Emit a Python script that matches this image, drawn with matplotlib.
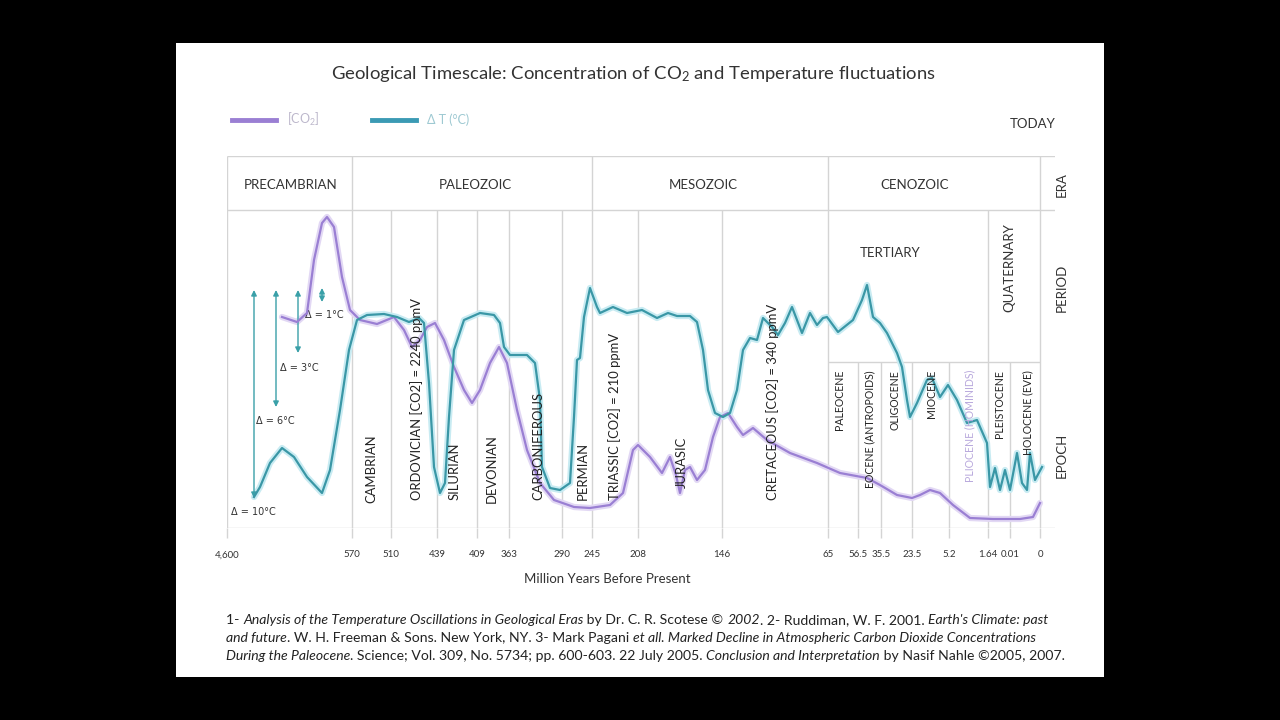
import matplotlib.pyplot as plt
from matplotlib.patches import Rectangle
from matplotlib.lines import Line2D
from matplotlib.font_manager import FontProperties

plt.rcParams['font.family'] = ['Lato', 'DejaVu Sans']
plt.rcParams['mathtext.fontset'] = 'custom'
plt.rcParams['mathtext.rm'] = 'Lato'
plt.rcParams['mathtext.it'] = 'Lato:italic'

# positions along the (non-linear) time axis, chart units from the left edge
tick_pos = [0, 125, 164, 210, 250, 282, 335, 365, 411, 495, 601, 631, 654, 685, 722, 761, 783, 813]
tick_labels = ['4,600', '570', '510', '439', '409', '363', '290', '245', '208', '146',
               '65', '56.5', '35.5', '23.5', '5.2', '1.64', '0.01', '0']

eras = ['PRECAMBRIAN', 'PALEOZOIC', 'MESOZOIC', 'CENOZOIC']
era_x = [64, 248, 476, 688]
era_bounds = [0, 125, 365, 601, 813]
period_bounds = [164, 210, 250, 282, 335, 411, 495, 761]
epoch_bounds = [631, 654, 685, 722, 783]

periods = ['CAMBRIAN', 'ORDOVICIAN [CO2] = 2240 ppmV', 'SILURIAN', 'DEVONIAN', 'CARBONIFEROUS',
           'PERMIAN', 'TRIASSIC [CO2] = 210 ppmV', 'JURASIC', 'CRETACEOUS [CO2] = 340 ppmV']
period_x = [144, 190, 228, 265, 311, 356, 388, 455, 546]
period_y = [25, 28, 28, 25, 28, 28, 28, 40, 28]

epochs = ['PALEOCENE', 'EOCENE (ANTROPOIDS)', 'OLIGOCENE', 'MIOCENE', 'PLIOCENE (HOMINIDS)',
          'PLEISTOCENE', 'HOLOCENE (EVE)']
epoch_x = [613, 643, 668, 705, 743, 773, 801]

# CO2 concentration curve (relative level)
co2_x = [55, 70, 80, 87, 95, 100, 107, 115, 123, 133, 150, 167, 177, 185, 193, 200, 208, 217, 227, 237,
         245, 253, 263, 272, 280, 290, 300, 313, 327, 347, 363, 383, 396, 406, 411, 423, 435, 443, 449, 453,
         458, 463, 470, 478, 486, 493, 501, 510, 516, 526, 540, 563, 590, 613, 640, 653, 670, 685, 693, 703,
         713, 726, 743, 766, 793, 806, 813]
co2_y = [211, 206, 215, 268, 305, 311, 301, 251, 218, 208, 204, 211, 198, 181, 188, 201, 205, 188, 161, 138,
         125, 138, 165, 181, 165, 118, 78, 45, 28, 21, 20, 23, 35, 78, 83, 71, 55, 71, 53, 35,
         58, 61, 48, 58, 91, 111, 115, 101, 93, 100, 88, 75, 65, 55, 50, 43, 33, 30, 33, 38,
         35, 23, 10, 9, 9, 11, 25]

# temperature curve (relative level)
temp_x = [27, 33, 43, 55, 67, 80, 95, 103, 113, 122, 130, 140, 157, 170, 182, 192, 197, 202, 207, 213,
          218, 222, 227, 237, 253, 267, 273, 277, 283, 300, 308, 313, 315, 323, 333, 343, 347, 350, 353, 357,
          363, 370, 373, 386, 400, 415, 430, 441, 450, 463, 470, 476, 481, 488, 496, 503, 510, 516, 523, 530,
          536, 545, 551, 558, 565, 570, 575, 583, 590, 596, 600, 611, 626, 635, 640, 646, 653, 660, 670, 675,
          680, 683, 690, 700, 705, 713, 721, 730, 740, 750, 760, 763, 768, 773, 778, 783, 790, 795, 800, 803,
          808, 815]
temp_y = [31, 41, 65, 80, 71, 51, 35, 58, 118, 178, 208, 213, 214, 211, 206, 210, 205, 145, 61, 35,
          45, 111, 178, 208, 215, 213, 205, 181, 173, 173, 165, 128, 61, 40, 38, 45, 111, 168, 170, 211,
          240, 221, 215, 221, 215, 218, 210, 215, 212, 212, 206, 178, 138, 115, 111, 115, 138, 178, 190, 188,
          210, 201, 193, 205, 221, 208, 195, 215, 203, 210, 211, 196, 208, 228, 243, 211, 205, 195, 175, 161,
          128, 111, 125, 148, 150, 131, 143, 128, 105, 108, 85, 41, 60, 38, 58, 38, 75, 45, 38, 75,
          48, 61]

# temperature range markers
delta_labels = ['Δ = 10°C', 'Δ = 6°C', 'Δ = 3°C', 'Δ = 1°C']
delta_x = [27, 49, 71, 95]
delta_lo = [30, 121, 175, 226]
delta_hi = [238, 238, 238, 240]
delta_lx = [26, 48, 72, 97]
delta_ly = [16, 107, 160, 213]

grid_c = '#d4d4d4'
txt_c = '#333333'
purple = '#9a7fd3'
teal = '#3a97a6'

fig = plt.figure(figsize=(12.8, 7.2), dpi=100, facecolor='black')
fig.patches.append(Rectangle((176 / 1280, 1 - 677 / 720), 928 / 1280, 634 / 720,
                             transform=fig.transFigure, facecolor='white', edgecolor='none', zorder=-5))

ax = fig.add_axes([227 / 1280, 1 - 528 / 720, 828 / 1280, 372 / 720])
ax.set_facecolor('none')
ax.set_xlim(0, 828)
ax.set_ylim(0, 372)
for s in ax.spines.values():
    s.set_visible(False)
ax.set_yticks([])
ax.set_xticks(tick_pos, tick_labels)
ax.tick_params(axis='x', length=7, width=1, color=grid_c, labelsize=7, pad=9, labelcolor=txt_c)

# table grid
ax.vlines(era_bounds, 0, 372, color=grid_c, lw=1)
ax.vlines(period_bounds, 0, 318, color=grid_c, lw=1)
ax.vlines(epoch_bounds, 0, 166, color=grid_c, lw=1)
ax.hlines([0, 318, 372], 0, 828, color=grid_c, lw=1)
ax.hlines(166, 601, 813, color=grid_c, lw=1)

for name, x in zip(eras, era_x):
    ax.text(x, 343, name, ha='center', va='center', fontsize=9.5, color=txt_c)
for name, y in zip(['ERA', 'PERIOD', 'EPOCH'], [343, 240, 73]):
    ax.text(835, y, name, rotation=90, ha='center', va='center', fontsize=9.5, color=txt_c)
ax.text(663, 275, 'TERTIARY', ha='center', va='center', fontsize=9.5, color=txt_c)
ax.text(782, 260, 'QUATERNARY', rotation=90, ha='center', va='center', fontsize=9.5, color=txt_c)

for name, x, y in zip(periods, period_x, period_y):
    ax.text(x, y, name, rotation=90, ha='center', va='bottom', fontsize=9.4, color='#222222', zorder=6)
for name, x in zip(epochs, epoch_x):
    c = '#b8a8dc' if name.startswith('PLIOCENE') else '#222222'
    ax.text(x, 158, name, rotation=90, ha='center', va='top', fontsize=7.6, color=c, zorder=6)

# curves with soft halo
ax.plot(co2_x, co2_y, color='#e2d8f4', lw=4.5, solid_joinstyle='round', solid_capstyle='round', zorder=3)
ax.plot(co2_x, co2_y, color=purple, lw=1.6, solid_joinstyle='round', zorder=4)
ax.plot(temp_x, temp_y, color='#c8ebf2', lw=4.5, solid_joinstyle='round', solid_capstyle='round', zorder=3)
ax.plot(temp_x, temp_y, color=teal, lw=1.6, solid_joinstyle='round', zorder=4)

for x, lo, hi in zip(delta_x, delta_lo, delta_hi):
    ax.annotate('', xy=(x, lo), xytext=(x, hi),
                arrowprops=dict(arrowstyle='<|-|>', color='#3aa0a8', lw=1, mutation_scale=8,
                                shrinkA=0, shrinkB=0))
for lab, x, y in zip(delta_labels, delta_lx, delta_ly):
    ax.text(x, y, lab, ha='center', va='center', fontsize=7, color=txt_c, family='DejaVu Sans')

ax.set_xlabel('Million Years Before Present', fontsize=9.5, color=txt_c)
ax.xaxis.set_label_coords((607 - 227) / 828, -(573 - 528) / 372)

fig.text(633 / 1280, 1 - 74 / 720,
         'Geological Timescale: Concentration of CO$_2$ and Temperature fluctuations',
         ha='center', va='center', fontsize=13.3, color=txt_c)
fig.text(1033 / 1280, 1 - 124 / 720, 'TODAY', ha='center', va='center', fontsize=9.5, color=txt_c)

fig.legend(handles=[Line2D([], [], color=purple, lw=3.5), Line2D([], [], color='#3b9ab4', lw=3.5)],
           labels=['[CO$_2$]', 'Δ T (°C)'], loc='upper left', bbox_to_anchor=(232 / 1280, 1 - 111 / 720),
           ncol=2, frameon=False, fontsize=9, handlelength=3.5, handletextpad=0.9, columnspacing=4.2,
           borderpad=0, borderaxespad=0, labelcolor=['#bdb8cc', '#9ec9d2'])

# footnote with mixed italic runs
foot = [
    [('1- ', 'normal'), ('Analysis of the Temperature Oscillations in Geological Eras', 'italic'),
     (' by Dr. C. R. Scotese © ', 'normal'), ('2002', 'italic'), ('. 2- Ruddiman, W. F. 2001. ', 'normal'),
     ("Earth's Climate: past", 'italic')],
    [('and future', 'italic'), ('. W. H. Freeman & Sons. New York, NY. 3- Mark Pagani ', 'normal'),
     ('et all. Marked Decline in Atmospheric Carbon Dioxide Concentrations', 'italic')],
    [('During the Paleocene', 'italic'), ('. Science; Vol. 309, No. 5734; pp. 600-603. 22 July 2005. ', 'normal'),
     ('Conclusion and Interpretation', 'italic'), (' by Nasif Nahle ©2005, 2007.', 'normal')],
]
foot_y = [620, 638, 656]
renderer = fig.canvas.get_renderer()
fsize = 10.1


def run_width(s, style):
    fp = FontProperties(family='Lato', style=style, size=fsize)
    w1 = renderer.get_text_width_height_descent('|' + s + '|', fp, ismath=False)[0]
    w0 = renderer.get_text_width_height_descent('||', fp, ismath=False)[0]
    return w1 - w0


for runs, y in zip(foot, foot_y):
    x = 226
    for s, style in runs:
        fig.text(x / 1280, 1 - y / 720, s, fontsize=fsize, style=style, ha='left', va='center', color='#222222')
        x += run_width(s, style)

fig.savefig('out.png', dpi=100, facecolor='black')
